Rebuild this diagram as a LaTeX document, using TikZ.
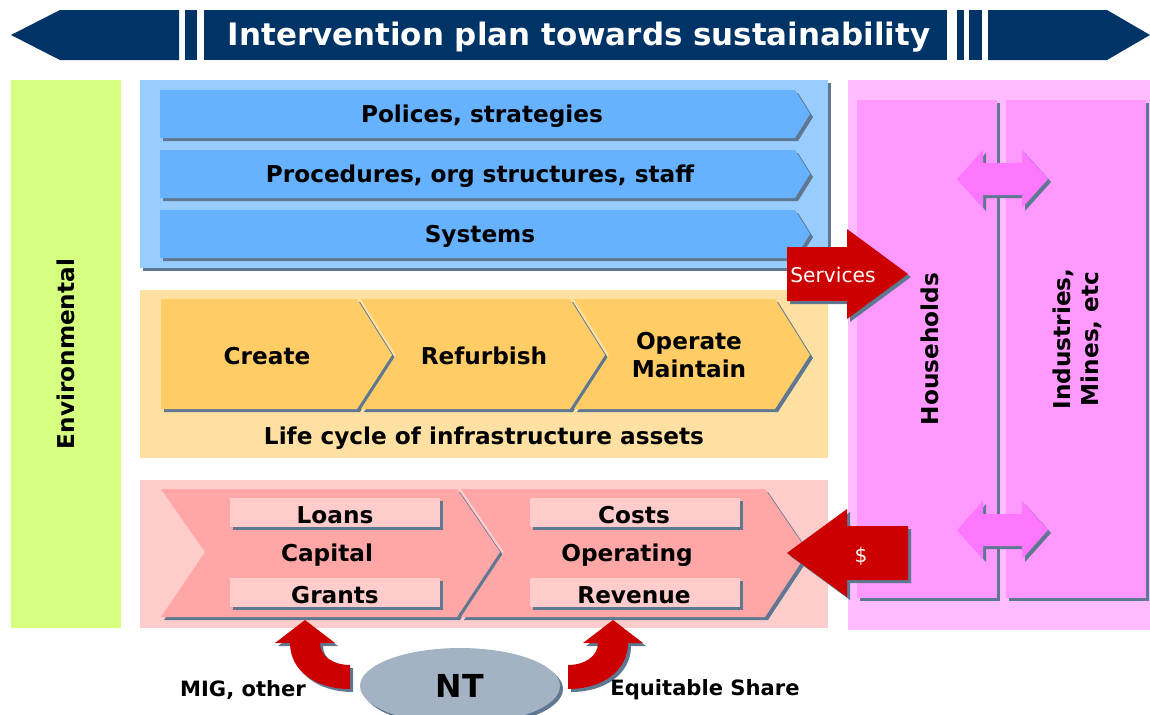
\documentclass[tikz,border=0pt]{standalone}
\usepackage{fontspec}
\setmainfont{DejaVu Sans}
\usetikzlibrary{shapes.geometric, shadows}
\definecolor{navy}{HTML}{003366}
\definecolor{envgreen}{HTML}{D6FF80}
\definecolor{bluepanel}{HTML}{99CCFF}
\definecolor{bluebar}{HTML}{66B2FF}
\definecolor{orangepanel}{HTML}{FFE0A3}
\definecolor{orangebar}{HTML}{FFCC66}
\definecolor{pinkpanel}{HTML}{FFCCCC}
\definecolor{pinkbar}{HTML}{FFA6A6}
\definecolor{magpanel}{HTML}{FFBBFF}
\definecolor{magbox}{HTML}{FF99FF}
\definecolor{magarrow}{HTML}{FF77FF}
\definecolor{darkred}{HTML}{CC0000}
\definecolor{shadowc}{HTML}{5F7891}
\definecolor{ntgray}{HTML}{A3B3C3}

\begin{document}
\begin{tikzpicture}[x=0.02cm, y=-0.02cm,
    dropsh/.style={drop shadow={fill=shadowc, opacity=1, shadow xshift=0.06cm, shadow yshift=-0.06cm}},
    lbl/.style={font=\fontsize{13.2}{16}\selectfont\bfseries, text=black, align=center, inner sep=0pt}]
  \useasboundingbox (0,0) rectangle (1150,714);

  % banner
  \fill[navy] (11,35) -- (60,10) -- (179,10) -- (179,60) -- (60,60) -- cycle;
  \fill[navy] (185,10) rectangle (197,60);
  \fill[navy] (204,10) rectangle (947,60);
  \fill[navy] (957,10) rectangle (964,60);
  \fill[navy] (969,10) rectangle (982,60);
  \fill[navy] (988,10) -- (1107,10) -- (1150,35) -- (1107,60) -- (988,60) -- cycle;
  \node[lbl, text=white, font=\fontsize{17.6}{20}\selectfont\bfseries] (title) at (579,37) {Intervention plan towards sustainability};

  % environmental
  \fill[envgreen] (11,80) rectangle (121,628);
  \node[lbl, rotate=90] (env) at (66,354) {Environmental};

  % organisation
  \fill[bluepanel, dropsh] (140,80) rectangle (828,268);
  \fill[bluebar, dropsh] (160,90) -- (795,90) -- (810,114) -- (795,138) -- (160,138) -- cycle;
  \fill[bluebar, dropsh] (160,150) -- (795,150) -- (810,174) -- (795,198) -- (160,198) -- cycle;
  \fill[bluebar, dropsh] (160,210) -- (795,210) -- (810,234) -- (795,258) -- (160,258) -- cycle;
  \node[lbl] (policies) at (482,116) {Polices, strategies};
  \node[lbl] (procedures) at (480,176) {Procedures, org structures, staff};
  \node[lbl] (systems) at (480,236) {Systems};

  % life cycle
  \fill[orangepanel] (140,290) rectangle (828,458);
  \fill[orangebar, dropsh] (161,299) -- (357,299) -- (392,355) -- (357,409) -- (161,409) -- cycle;
  \fill[orangebar, dropsh] (361,299) -- (570,299) -- (605,355) -- (570,409) -- (361,409) -- (396,355) -- cycle;
  \fill[orangebar, dropsh] (574,299) -- (775,299) -- (810,355) -- (775,409) -- (574,409) -- (609,355) -- cycle;
  \node[lbl] (create) at (267,356) {Create};
  \node[lbl] (refurbish) at (484,356) {Refurbish};
  \node[lbl] (operate) at (689,355) {Operate\\Maintain};
  \node[lbl] (lifecycle) at (484,438) {Life cycle of infrastructure assets};

  % finance
  \fill[pinkpanel] (140,480) rectangle (828,628);
  \fill[pinkbar, dropsh] (161,489) -- (457,489) -- (500,552) -- (457,617) -- (161,617) -- (205,552) -- cycle;
  \fill[pinkbar, dropsh] (461,489) -- (765,489) -- (808,552) -- (765,617) -- (461,617) -- (504,552) -- cycle;
  \fill[pinkpanel, dropsh] (230,498) rectangle (440,527);
  \fill[pinkpanel, dropsh] (230,578) rectangle (440,607);
  \fill[pinkpanel, dropsh] (530,498) rectangle (740,527);
  \fill[pinkpanel, dropsh] (530,578) rectangle (740,607);
  \node[lbl] (loans) at (335,515) {Loans};
  \node[lbl] (capital) at (327,555) {Capital};
  \node[lbl] (grants) at (335,595) {Grants};
  \node[lbl] (costs) at (634,515) {Costs};
  \node[lbl] (operating) at (627,555) {Operating};
  \node[lbl] (revenue) at (634,595) {Revenue};

  % customers
  \fill[magpanel] (848,80) rectangle (1150,630);
  \fill[magbox, dropsh] (857,100) rectangle (997,598);
  \fill[magbox, dropsh] (1006,100) rectangle (1146,598);
  \node[lbl, rotate=90] (households) at (930,349) {Households};
  \node[lbl, rotate=90] (industries) at (1077,339) {Industries,\\Mines, etc};
  \fill[magarrow, dropsh] (957,179) -- (983,150) -- (983,163) -- (1022,163) -- (1022,150) -- (1048,179)
    -- (1022,208) -- (1022,195) -- (983,195) -- (983,208) -- cycle;
  \fill[magarrow, dropsh] (957,530) -- (983,501) -- (983,514) -- (1022,514) -- (1022,501) -- (1048,530)
    -- (1022,559) -- (1022,546) -- (983,546) -- (983,559) -- cycle;

  % flows
  \fill[darkred, dropsh] (787,247) -- (847,247) -- (847,229) -- (908,274) -- (847,319) -- (847,301) -- (787,301) -- cycle;
  \node[text=white, font=\fontsize{11.5}{13}\selectfont, inner sep=0pt] (services) at (833,275) {Services};
  \fill[darkred, dropsh] (908,526) -- (847,526) -- (847,509) -- (787,553) -- (847,597) -- (847,580) -- (908,580) -- cycle;
  \node[text=white, font=\fontsize{11.5}{13}\selectfont, inner sep=0pt] (dollar) at (861,556) {\$};

  % funding
  \node[ellipse, fill=ntgray, dropsh, minimum width=4cm, minimum height=1.52cm, inner sep=0pt,
    font=\fontsize{18}{20}\selectfont\bfseries] (nt) at (460,686) {NT};
  \fill[darkred, dropsh] (305,620) -- (335,643) -- (320,643) .. controls (320,656) and (333,665) .. (350,665)
    -- (350,689) .. controls (316,689) and (290,671) .. (290,643) -- (275,643) -- cycle;
  \fill[darkred, dropsh] (613,620) -- (583,643) -- (598,643) .. controls (598,656) and (585,665) .. (568,665)
    -- (568,689) .. controls (602,689) and (628,671) .. (628,643) -- (643,643) -- cycle;
  \node[lbl, font=\fontsize{12}{14}\selectfont\bfseries] (mig) at (243,690) {MIG, other};
  \node[lbl, font=\fontsize{12}{14}\selectfont\bfseries] (equitable) at (705,690) {Equitable Share};
\end{tikzpicture}
\end{document}
